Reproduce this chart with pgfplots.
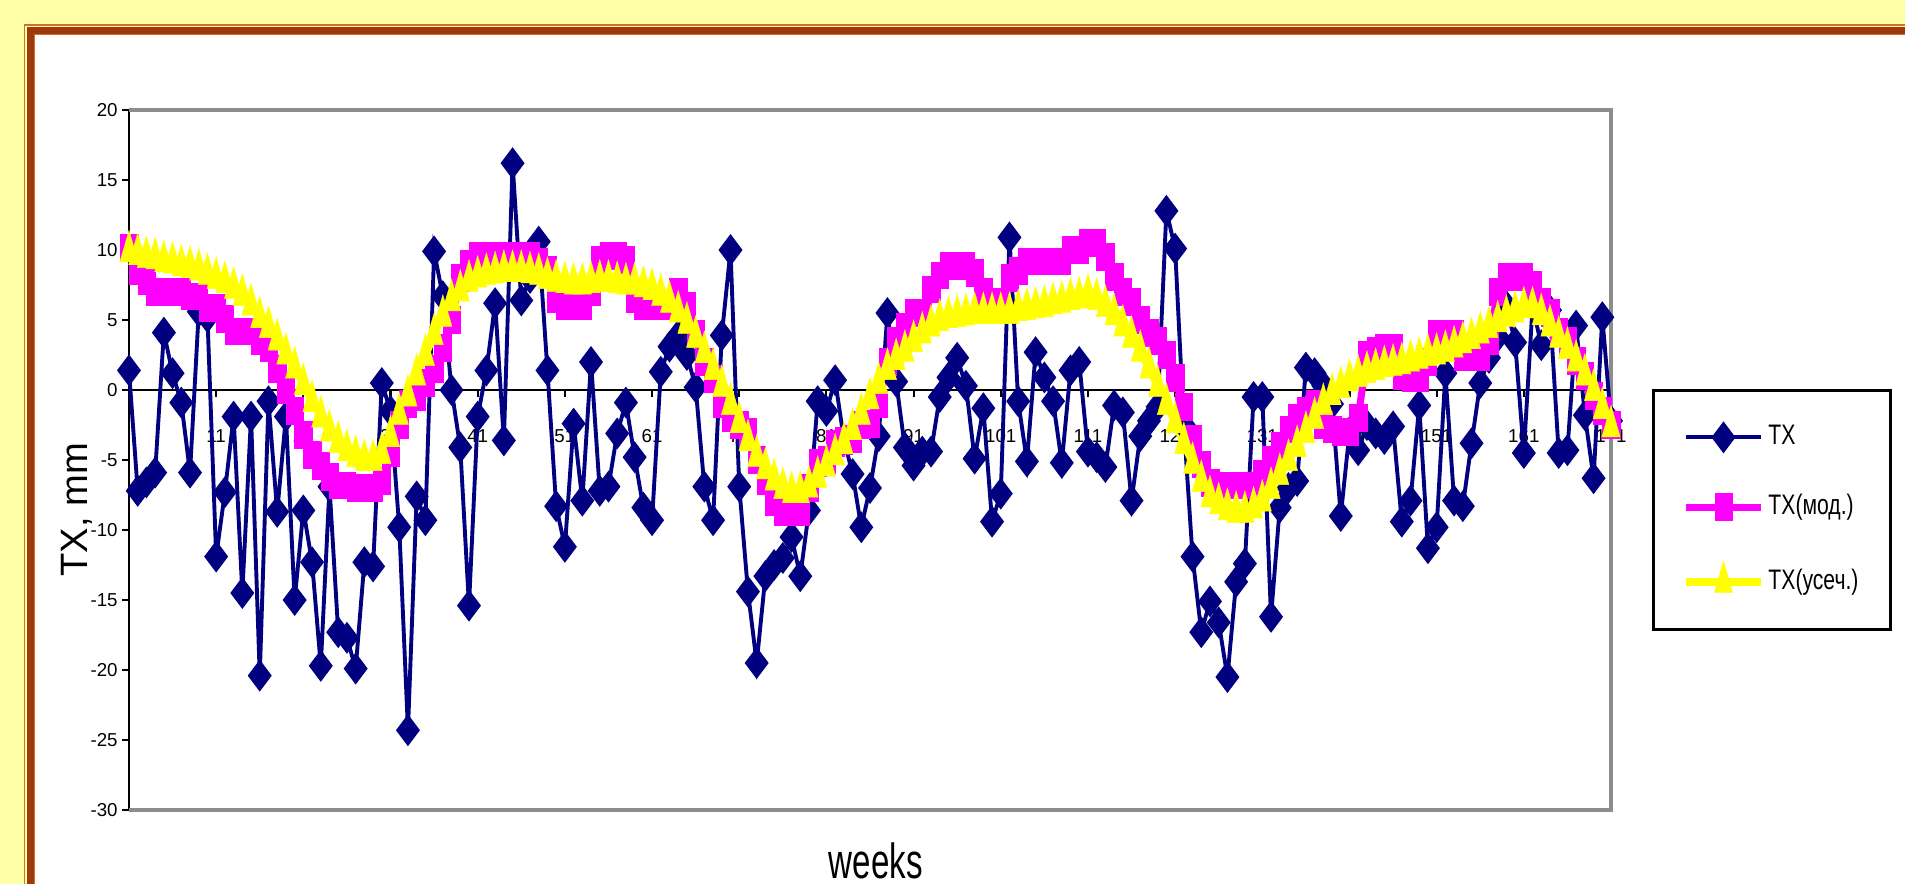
\documentclass[border=0pt]{standalone}
\usepackage{fontspec}
\setmainfont{Liberation Sans}
\usepackage{pgfplots}
\usepackage{pgfplotstable}
\pgfplotsset{compat=1.18}
\definecolor{bgyellow}{RGB}{255,255,168}
\definecolor{brownb}{RGB}{156,58,14}
\definecolor{orangeb}{RGB}{208,112,40}
\definecolor{navyTX}{RGB}{0,0,128}
\definecolor{frameg}{RGB}{140,140,140}
\definecolor{magTX}{RGB}{255,0,255}
\definecolor{yelTX}{RGB}{255,255,0}

\pgfplotstableread{
w tx mod us
1 1.4 10.2 9.9
2 -7.2 8.5 9.7
3 -6.6 7.8 9.5
4 -5.9 7.0 9.4
5 4.1 7.0 9.2
6 1.2 7.0 9.1
7 -0.9 7.0 8.9
8 -5.9 6.7 8.8
9 5.6 6.7 8.6
10 5.2 5.9 8.3
11 -11.9 5.9 8.0
12 -7.3 5.1 7.7
13 -1.9 4.2 7.3
14 -14.5 4.2 6.8
15 -1.9 4.2 6.1
16 -20.4 3.5 5.2
17 -0.8 3.0 4.5
18 -8.7 1.5 3.6
19 -1.9 0.0 2.6
20 -15.0 -1.5 1.6
21 -8.6 -3.2 0.4
22 -12.3 -4.6 -0.8
23 -19.7 -5.4 -1.9
24 -6.9 -6.2 -2.9
25 -17.3 -6.8 -3.7
26 -17.7 -6.8 -4.3
27 -19.9 -7.0 -4.7
28 -12.3 -7.0 -5.0
29 -12.6 -7.0 -5.0
30 0.5 -6.5 -4.5
31 -1.5 -4.5 -3.3
32 -9.8 -2.5 -1.7
33 -24.3 -1.0 -0.4
34 -7.6 -0.5 1.1
35 -9.3 0.5 2.5
36 9.9 1.5 4.0
37 6.7 3.0 5.3
38 0.0 5.0 6.4
39 -4.1 8.0 7.1
40 -15.4 9.0 7.8
41 -1.9 9.6 8.1
42 1.4 9.6 8.3
43 6.2 9.6 8.4
44 -3.6 9.6 8.5
45 16.2 9.6 8.5
46 6.4 9.6 8.5
47 8.0 9.6 8.4
48 10.6 9.2 8.3
49 1.4 8.6 8.0
50 -8.3 6.5 7.8
51 -11.2 6.0 7.7
52 -2.4 6.0 7.6
53 -7.9 6.0 7.6
54 2.0 7.0 7.7
55 -7.2 9.3 7.8
56 -6.9 9.6 7.8
57 -3.1 9.6 7.7
58 -0.9 9.3 7.6
59 -4.8 6.5 7.6
60 -8.4 6.0 7.4
61 -9.3 6.0 7.2
62 1.3 6.0 6.8
63 3.1 6.0 6.3
64 3.9 7.0 5.6
65 2.5 6.0 4.8
66 0.2 4.0 3.8
67 -6.9 2.0 2.7
68 -9.3 0.8 1.5
69 3.9 -1.0 0.3
70 10.0 -2.0 -1.0
71 -6.9 -2.5 -2.3
72 -14.4 -3.0 -3.6
73 -19.5 -5.0 -4.7
74 -13.3 -6.5 -5.6
75 -12.5 -8.0 -6.4
76 -12.0 -8.7 -7.0
77 -10.5 -8.7 -7.3
78 -13.3 -8.7 -7.3
79 -8.6 -7.0 -6.9
80 -0.8 -5.2 -6.2
81 -1.5 -5.0 -5.4
82 0.7 -3.8 -4.6
83 -3.5 -3.6 -3.8
84 -6.0 -3.5 -2.8
85 -9.8 -2.5 -1.7
86 -7.0 -2.4 -0.6
87 -3.3 -1.0 0.5
88 5.5 2.0 1.5
89 0.6 3.5 2.2
90 -4.1 4.5 2.8
91 -5.4 5.5 3.5
92 -4.4 5.5 4.1
93 -4.4 7.2 4.6
94 -0.5 8.2 5.0
95 0.9 8.9 5.2
96 2.3 8.9 5.3
97 0.3 8.9 5.4
98 -4.9 8.4 5.5
99 -1.3 7.0 5.5
100 -9.4 6.3 5.5
101 -7.4 6.3 5.5
102 10.9 8.0 5.5
103 -0.8 8.5 5.7
104 -5.1 9.2 5.8
105 2.7 9.2 5.9
106 0.9 9.2 6.0
107 -0.8 9.2 6.2
108 -5.2 9.2 6.3
109 1.4 10.0 6.5
110 2.0 10.0 6.6
111 -4.4 10.5 6.8
112 -4.8 10.5 6.5
113 -5.5 9.5 6.0
114 -1.1 8.1 5.4
115 -1.6 7.0 4.6
116 -7.9 6.3 3.8
117 -3.3 5.0 2.8
118 -2.2 4.1 1.6
119 -1.2 3.5 0.3
120 12.8 2.5 -1.0
121 10.1 0.9 -2.3
122 -2.5 -1.2 -3.8
123 -11.9 -3.5 -5.2
124 -17.3 -5.3 -6.5
125 -15.1 -6.6 -7.6
126 -16.6 -6.8 -8.1
127 -20.5 -6.8 -8.5
128 -13.7 -6.8 -8.7
129 -12.4 -6.8 -8.7
130 -0.5 -6.8 -8.4
131 -0.5 -6.0 -7.9
132 -16.2 -5.0 -7.0
133 -8.4 -4.0 -6.0
134 -7.0 -2.8 -5.0
135 -6.5 -2.0 -4.0
136 1.6 -1.5 -3.0
137 1.2 -1.0 -2.0
138 0.3 -2.5 -1.0
139 -1.0 -2.8 -0.3
140 -9.0 -3.0 0.2
141 -3.0 -3.0 0.7
142 -4.3 -2.0 1.0
143 -2.5 2.5 1.3
144 -3.1 2.8 1.5
145 -3.5 3.0 1.7
146 -2.6 3.0 1.8
147 -9.4 1.0 1.9
148 -7.9 0.9 2.1
149 -1.1 0.9 2.3
150 -11.3 2.0 2.5
151 -9.8 4.0 2.6
152 1.2 4.0 2.8
153 -7.9 4.0 3.1
154 -8.3 2.4 3.4
155 -3.8 2.4 3.7
156 0.5 2.4 4.1
157 2.3 3.5 4.5
158 3.8 7.0 4.9
159 6.0 8.1 5.3
160 3.4 8.1 5.6
161 -4.5 8.1 5.9
162 6.0 7.5 5.9
163 3.2 6.3 5.4
164 5.7 5.5 4.6
165 -4.5 4.2 3.8
166 -4.3 3.5 3.0
167 4.6 2.1 2.1
168 -1.8 1.0 1.1
169 -6.3 -0.4 0.0
170 5.2 -1.5 -1.3
171 -2.2 -2.5 -2.6
}\datatable

\begin{document}
\begin{tikzpicture}
\useasboundingbox (0pt,0pt) rectangle (540.07pt,-250.61pt);
\fill[bgyellow] (0pt,0pt) rectangle (540.07pt,-250.61pt);
\fill[white] (9.6pt,-9.6pt) rectangle (540.07pt,-250.61pt);
\draw[orangeb, line width=0.5pt] (6.95pt,-250.61pt) -- (6.95pt,-7.09pt) -- (540.07pt,-7.09pt);
\draw[brownb, line width=1.85pt] (8.7pt,-250.61pt) -- (8.7pt,-8.7pt) -- (540.07pt,-8.7pt);
\draw[orangeb, line width=0.3pt] (9.75pt,-250.61pt) -- (9.75pt,-9.75pt) -- (540.07pt,-9.75pt);

\begin{axis}[
  at={(36.57pt,-229.64pt)}, anchor=south west,
  scale only axis, width=420.15pt, height=198.45pt,
  xmin=1, xmax=171, ymin=-30, ymax=20,
  axis x line*=middle, axis y line*=left,
  axis line style={-},
  x axis line style={black, line width=0.8pt},
  y axis line style={black, line width=0.8pt},
  xtick={1,11,21,31,41,51,61,71,81,91,101,111,121,131,141,151,161,171},
  xticklabels={1,11,21,31,41,51,61,71,81,91,101,111,121,131,141,151,161,171},
  ytick={-30,-25,-20,-15,-10,-5,0,5,10,15,20},
  yticklabels={-30,-25,-20,-15,-10,-5,0,5,10,15,20},
  tick align=outside, major tick length=2pt,
  tick style={black, line width=0.6pt},
  ticklabel style={font=\fontsize{5.3}{6}\selectfont},
  xticklabel style={anchor=center, yshift=-11pt},
  yticklabel style={anchor=east, xshift=2.3pt},
  clip=false,
  legend style={at={(1.0277,0.6014)}, anchor=north west, draw=black,
    line width=0.8pt, fill=white, inner xsep=8.1pt, inner ysep=8.8pt,
    row sep=10.6pt, font=\fontsize{8}{9}\selectfont, nodes={inner sep=1pt}},
  legend cell align=left,
  legend image code/.code={\draw[mark repeat=2, mark phase=2, #1] plot coordinates {(0pt,0pt) (10.65pt,0pt) (21.3pt,0pt)};},
]
\draw[frameg, line width=1.1pt] (rel axis cs:0,1) -- (rel axis cs:1,1) -- (rel axis cs:1,0) -- (rel axis cs:0,0);
\addplot[navyTX, line width=1.1pt, mark=diamond*, mark size=4.2pt,
  mark options={solid, fill=navyTX, draw=navyTX, line width=0.4pt}]
  table[x=w, y=tx]{\datatable};
\addlegendentry{\scalebox{0.75}[1]{TX}}
\addplot[magTX, line width=2pt, mark=square*, mark size=3.8pt,
  mark options={solid, fill=magTX, draw=magTX, xscale=0.65, line width=0.1pt}]
  table[x=w, y=mod]{\datatable};
\addlegendentry{\scalebox{0.75}[1]{TX(мод.)}}
\addplot[yelTX, line width=2.2pt, mark=triangle*, mark size=6pt,
  mark options={solid, fill=yelTX, draw=yelTX, xscale=0.5, line width=0.1pt}]
  table[x=w, y=us]{\datatable};
\addlegendentry{\scalebox{0.75}[1]{TX(усеч.)}}
\end{axis}

\node[rotate=90, font=\fontsize{10.8}{12}\selectfont] at (21.8pt,-144.5pt) {TX, mm};
\node[font=\fontsize{14}{16}\selectfont, inner sep=0pt] at (248.3pt,-244.0pt) {\scalebox{0.67}[1]{weeks}};
\end{tikzpicture}
\end{document}
